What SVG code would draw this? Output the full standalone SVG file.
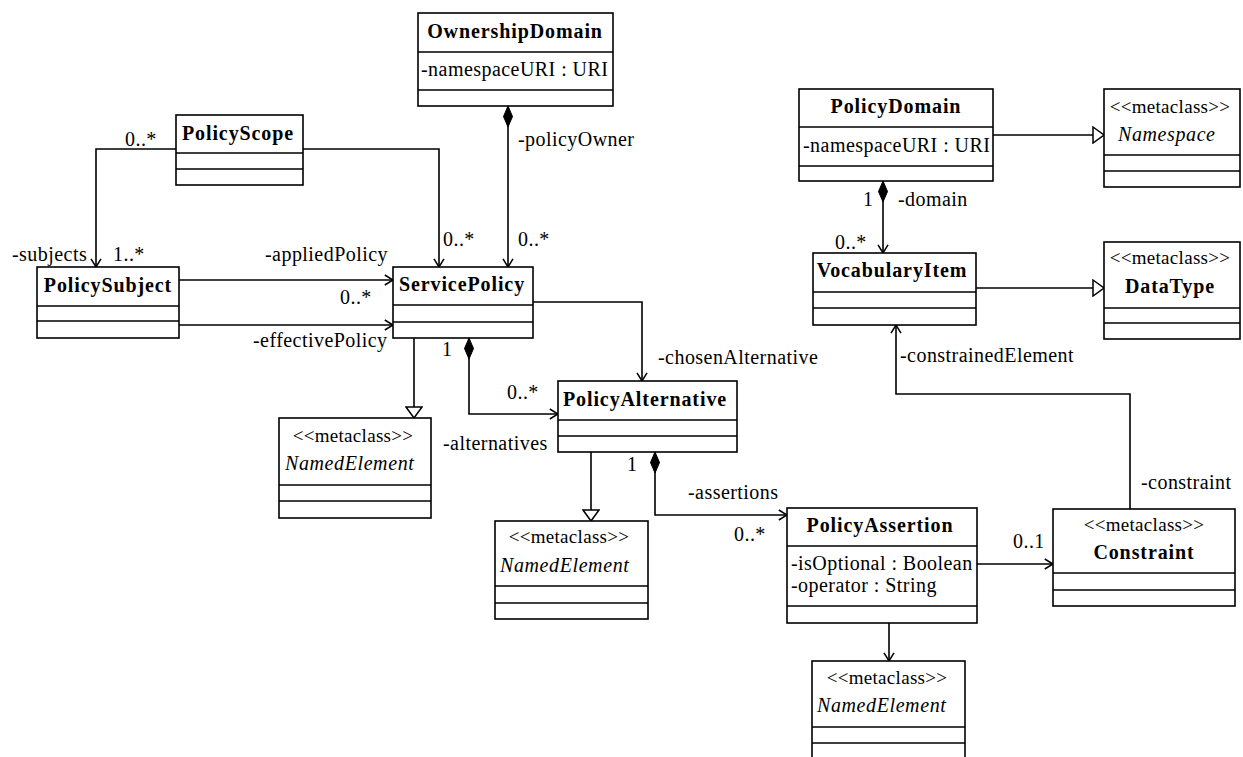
<svg xmlns="http://www.w3.org/2000/svg" width="1243" height="757" viewBox="0 0 1243 757">
  <style>
    .box { fill: #ffffff; stroke: #000000; stroke-width: 1.6; }
    .ln { fill: none; stroke: #000000; stroke-width: 1.6; }
    text { font-family: "Liberation Serif", "Times New Roman", serif; font-size: 20px; fill: #000000; letter-spacing: 0.45px; }
    .nm { font-weight: bold; letter-spacing: 0.9px; text-anchor: middle; }
    .st { font-size: 19px; letter-spacing: 0.3px; text-anchor: middle; }
    .it { font-style: italic; letter-spacing: 0.6px; }
  </style>
  <defs>
    <!-- open navigation arrow -->
    <marker id="open" viewBox="0 0 10 12" refX="9.2" refY="6" markerWidth="10" markerHeight="12" markerUnits="userSpaceOnUse" orient="auto">
      <path d="M1,1 L9.2,6 L1,11" fill="none" stroke="#000" stroke-width="1.5"/>
    </marker>
    <!-- hollow generalization triangle -->
    <marker id="gen" viewBox="0 0 13 18" refX="12" refY="9" markerWidth="13" markerHeight="18" markerUnits="userSpaceOnUse" orient="auto">
      <path d="M1,1 L12,9 L1,17 Z" fill="#fff" stroke="#000" stroke-width="1.5"/>
    </marker>
    <!-- filled composition diamond -->
    <marker id="comp" viewBox="0 0 22 10" refX="0.5" refY="5" markerWidth="22" markerHeight="10" markerUnits="userSpaceOnUse" orient="auto">
      <path d="M0.5,5 L11,0.5 L21.5,5 L11,9.5 Z" fill="#000" stroke="#000" stroke-width="1"/>
    </marker>
  </defs>
  <rect x="0" y="0" width="1243" height="757" fill="#ffffff"/>

  <!-- associations, compositions and generalizations -->
  <g id="connectors">
    <path class="ln" d="M176,149 H96 V267" marker-end="url(#open)"/>
    <path class="ln" d="M303,149 H439 V267" marker-end="url(#open)"/>
    <path class="ln" d="M508,106 V267" marker-start="url(#comp)" marker-end="url(#open)"/>
    <path class="ln" d="M179,280 H393" marker-end="url(#open)"/>
    <path class="ln" d="M179,325 H393" marker-end="url(#open)"/>
    <path class="ln" d="M414,338 V418" marker-end="url(#gen)"/>
    <path class="ln" d="M469,338 V414 H558" marker-start="url(#comp)" marker-end="url(#open)"/>
    <path class="ln" d="M533,302 H642 V381" marker-end="url(#open)"/>
    <path class="ln" d="M591,452 V521" marker-end="url(#gen)"/>
    <path class="ln" d="M655,452 V515 H787" marker-start="url(#comp)" marker-end="url(#open)"/>
    <path class="ln" d="M977,564 H1053" marker-end="url(#open)"/>
    <path class="ln" d="M1130,509 V394 H896 V325" marker-end="url(#open)"/>
    <path class="ln" d="M889,623 V661" marker-end="url(#open)"/>
    <path class="ln" d="M993,135 H1104" marker-end="url(#gen)"/>
    <path class="ln" d="M883,181 V253" marker-start="url(#comp)" marker-end="url(#open)"/>
    <path class="ln" d="M976,288 H1104" marker-end="url(#gen)"/>

    <!-- role names and multiplicities -->
    <text x="125" y="146">0..*</text>
    <text x="12" y="261">-subjects</text>
    <text x="113" y="261">1..*</text>
    <text x="443" y="246">0..*</text>
    <text x="518" y="146">-policyOwner</text>
    <text x="518" y="246">0..*</text>
    <text x="265" y="261">-appliedPolicy</text>
    <text x="340" y="304">0..*</text>
    <text x="253" y="347">-effectivePolicy</text>
    <text x="442" y="356">1</text>
    <text x="507" y="399">0..*</text>
    <text x="443" y="450">-alternatives</text>
    <text x="658" y="364">-chosenAlternative</text>
    <text x="627" y="471">1</text>
    <text x="688" y="499">-assertions</text>
    <text x="734" y="541">0..*</text>
    <text x="1013" y="548">0..1</text>
    <text x="1141" y="489">-constraint</text>
    <text x="900" y="362">-constrainedElement</text>
    <text x="863" y="206">1</text>
    <text x="898" y="206">-domain</text>
    <text x="835" y="249">0..*</text>
  </g>

  <g id="PolicyScope">
    <rect class="box" x="176" y="115" width="127" height="70"/>
    <path class="ln" d="M176,153 H303 M176,169 H303"/>
    <text class="nm" x="238" y="140">PolicyScope</text>
  </g>

  <g id="OwnershipDomain">
    <rect class="box" x="418" y="13" width="195" height="93"/>
    <path class="ln" d="M418,52 H613 M418,90 H613"/>
    <text class="nm" x="515" y="38">OwnershipDomain</text>
    <text x="421" y="76">-namespaceURI : URI</text>
  </g>

  <g id="PolicySubject">
    <rect class="box" x="37" y="267" width="142" height="71"/>
    <path class="ln" d="M37,306 H179 M37,321 H179"/>
    <text class="nm" x="108" y="292">PolicySubject</text>
  </g>

  <g id="ServicePolicy">
    <rect class="box" x="393" y="267" width="140" height="71"/>
    <path class="ln" d="M393,305 H533 M393,322 H533"/>
    <text class="nm" x="462" y="291">ServicePolicy</text>
  </g>

  <g id="PolicyAlternative">
    <rect class="box" x="558" y="381" width="179" height="71"/>
    <path class="ln" d="M558,420 H737 M558,436 H737"/>
    <text class="nm" x="645" y="406">PolicyAlternative</text>
  </g>

  <g id="NamedElement-1">
    <rect class="box" x="279" y="418" width="152" height="100"/>
    <path class="ln" d="M279,485 H431 M279,501 H431"/>
    <text class="st" x="353" y="442">&lt;&lt;metaclass&gt;&gt;</text>
    <text class="it" x="285" y="470">NamedElement</text>
  </g>

  <g id="NamedElement-2">
    <rect class="box" x="495" y="521" width="153" height="98"/>
    <path class="ln" d="M495,586 H648 M495,603 H648"/>
    <text class="st" x="569" y="543">&lt;&lt;metaclass&gt;&gt;</text>
    <text class="it" x="500" y="572">NamedElement</text>
  </g>

  <g id="PolicyAssertion">
    <rect class="box" x="787" y="508" width="190" height="115"/>
    <path class="ln" d="M787,546 H977 M787,606 H977"/>
    <text class="nm" x="880" y="532">PolicyAssertion</text>
    <text x="791" y="570">-isOptional : Boolean</text>
    <text x="791" y="592">-operator : String</text>
  </g>

  <g id="Constraint">
    <rect class="box" x="1053" y="509" width="182" height="97"/>
    <path class="ln" d="M1053,573 H1235 M1053,590 H1235"/>
    <text class="st" x="1144" y="531">&lt;&lt;metaclass&gt;&gt;</text>
    <text class="nm" x="1144" y="559">Constraint</text>
  </g>

  <g id="NamedElement-3">
    <rect class="box" x="812" y="661" width="153" height="98"/>
    <path class="ln" d="M812,727 H965 M812,743 H965"/>
    <text class="st" x="887" y="684">&lt;&lt;metaclass&gt;&gt;</text>
    <text class="it" x="817" y="712">NamedElement</text>
  </g>

  <g id="PolicyDomain">
    <rect class="box" x="799" y="89" width="194" height="92"/>
    <path class="ln" d="M799,127 H993 M799,166 H993"/>
    <text class="nm" x="896" y="113">PolicyDomain</text>
    <text x="803" y="152">-namespaceURI : URI</text>
  </g>

  <g id="Namespace">
    <rect class="box" x="1104" y="89" width="136" height="98"/>
    <path class="ln" d="M1104,155 H1240 M1104,171 H1240"/>
    <text class="st" x="1170" y="113">&lt;&lt;metaclass&gt;&gt;</text>
    <text class="it" x="1118" y="141">Namespace</text>
  </g>

  <g id="VocabularyItem">
    <rect class="box" x="813" y="253" width="163" height="72"/>
    <path class="ln" d="M813,292 H976 M813,308 H976"/>
    <text class="nm" x="892" y="277">VocabularyItem</text>
  </g>

  <g id="DataType">
    <rect class="box" x="1104" y="242" width="136" height="97"/>
    <path class="ln" d="M1104,308 H1240 M1104,323 H1240"/>
    <text class="st" x="1170" y="264">&lt;&lt;metaclass&gt;&gt;</text>
    <text class="nm" x="1170" y="293">DataType</text>
  </g>
</svg>
